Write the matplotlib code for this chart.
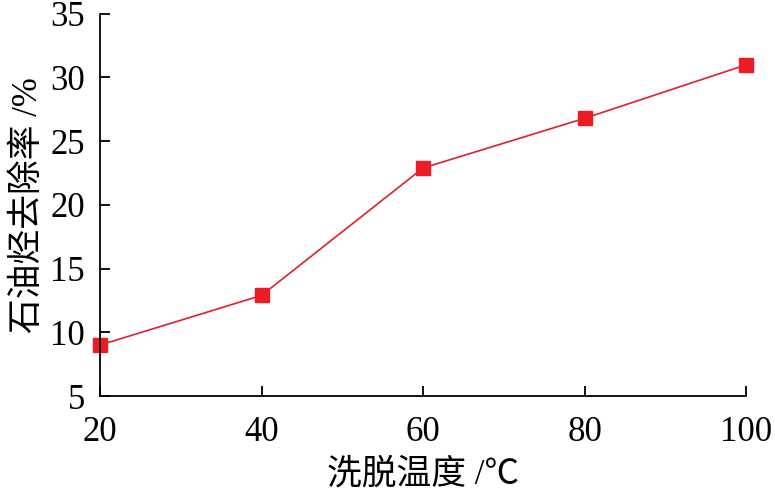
import matplotlib
matplotlib.use('Agg')
from matplotlib import pyplot as plt

# Data
temps = [20, 40, 60, 80, 100]
removal = [9.0, 12.9, 22.9, 26.8, 31.0]
xticks = [20, 40, 60, 80, 100]
yticks = [5, 10, 15, 20, 25, 30, 35]

plt.rcParams['font.family'] = ['Liberation Serif', 'Noto Sans CJK SC', 'DejaVu Sans']

fig = plt.figure(figsize=(7.75, 4.92), dpi=100)
ax = fig.add_axes([0.129, 0.195, 0.834, 0.777])

ax.plot(temps, removal, color='#e0202a', lw=1.2, marker='s', markersize=9.5,
        markerfacecolor='#ec1c24', markeredgecolor='#ec1c24', clip_on=False)

ax.set_xlim(20, 100)
ax.set_ylim(5, 35)
ax.set_xticks(xticks)
ax.set_yticks(yticks)

ax.spines['top'].set_visible(False)
ax.spines['right'].set_visible(False)
for s in ['left', 'bottom']:
    ax.spines[s].set_linewidth(1.3)

ax.tick_params(direction='in', length=7, width=1.3, labelsize=25)
ax.tick_params(axis='x', pad=14)
ax.tick_params(axis='y', pad=11)

ax.set_xlabel('洗脱温度 /℃', fontsize=25, labelpad=7)
ax.set_ylabel('石油烃去除率 /%', fontsize=25, labelpad=4)

fig.savefig('out.png', dpi=100)
